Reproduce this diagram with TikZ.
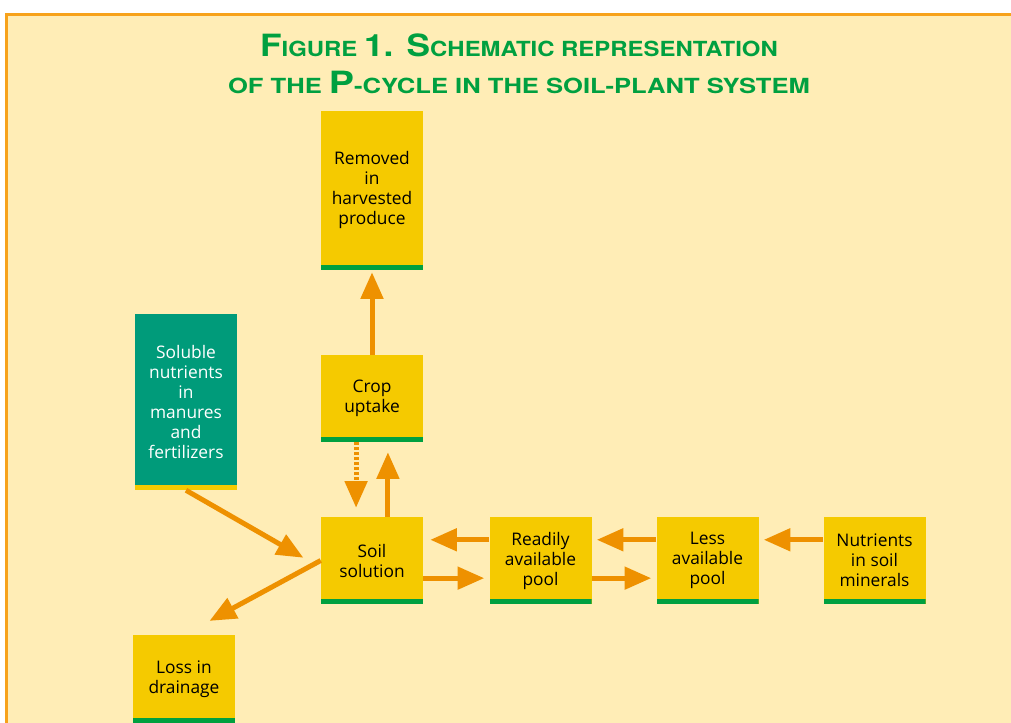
\documentclass[tikz,border=0pt]{standalone}
\usepackage{fontspec}
\setmainfont{Open Sans}
\newfontfamily\headfont{TeX Gyre Heros}
\usetikzlibrary{arrows.meta}
\definecolor{cBg}{HTML}{FFEDB6}
\definecolor{cBox}{HTML}{F5CA00}
\definecolor{cBar}{HTML}{00A040}
\definecolor{cTeal}{HTML}{009B7A}
\definecolor{cArr}{HTML}{EE9100}
\definecolor{cBrd}{HTML}{F7A21B}
\definecolor{cHead}{HTML}{00A040}
\newcommand{\boxfont}{\fontsize{13}{15}\selectfont}
\newcommand{\hcap}[1]{{\fontsize{23}{23}\selectfont #1}}
\newcommand{\hsml}{\fontsize{15.6}{15.6}\selectfont}
\tikzset{
  pbox/.style={rectangle, fill=cBox, inner sep=0pt, minimum width=76.5pt, minimum height=65.25pt,
    align=center, font=\boxfont,
    path picture={\fill[cBar] (path picture bounding box.south west) rectangle ([yshift=3.75pt]path picture bounding box.south east);}},
  tbox/.style={pbox, fill=cTeal, text=white,
    path picture={\fill[cBox] (path picture bounding box.south west) rectangle ([yshift=3.75pt]path picture bounding box.south east);}},
  flow/.style={line width=3.75pt, cArr, -{Triangle[length=20pt,width=16.5pt]}},
  flowd/.style={flow, dash pattern=on 2.25pt off 1.5pt},
  headline/.style={anchor=base, text=cHead, font=\headfont\bfseries\hsml},
}

\begin{document}
\begin{tikzpicture}[x=0.75pt,y=-0.75pt]
\useasboundingbox (0,0) rectangle (1011,723);
\fill[cBg] (6,15) rectangle (1011,723);
\draw[cBrd, line width=2.25pt] (6,723) -- (6,15) -- (1011,15);
\node[headline] (t1) at (519,57) {\scalebox{1.15}[1]{\hcap{F}IGURE \hcap{1. S}CHEMATIC REPRESENTATION}};
\node[headline] (t2) at (519,94) {\scalebox{1.23}[1]{OF THE \hcap{P}-CYCLE IN THE SOIL-PLANT SYSTEM}};

\node[pbox, minimum height=119.25pt] (rem) at (372,190.5) {Removed\\in\\harvested\\produce};
\node[pbox] (crop) at (372,398.5) {Crop\\uptake};
\node[pbox] (soil) at (372,560.5) {Soil\\solution};
\node[pbox] (ready) at (540.5,560.5) {Readily\\available\\pool};
\node[pbox] (less) at (707.5,560.5) {Less\\available\\pool};
\node[pbox] (nutr) at (874.5,560.5) {Nutrients\\in soil\\minerals};
\node[tbox, minimum height=132pt] (solub) at (186,402) {Soluble\\nutrients\\in\\manures\\and\\fertilizers};
\node[pbox, minimum height=66pt] (loss) at (184,679) {Loss in\\drainage};

\draw[flow, shorten >=1.5pt] (crop) -- (rem);
\draw[flow, shorten >=7.5pt] (soil.70) -- (crop.290);
\draw[flowd, shorten >=6.75pt] (crop.250) -- (soil.110);
\draw[flow, shorten >=15pt] (solub.south) -- (soil.188);
\draw[flow, shorten >=21.75pt] (soil.west) -- (loss.north);
\draw[flow, shorten >=5.25pt] (ready.158) -- (soil.22);
\draw[flow, shorten >=3.75pt] (soil.-19) -- (ready.199);
\draw[flow, shorten >=3.75pt] (less.158) -- (ready.22);
\draw[flow, shorten >=3.75pt] (ready.-19) -- (less.199);
\draw[flow, shorten >=3.75pt] (nutr.158) -- (less.22);
\end{tikzpicture}
\end{document}
